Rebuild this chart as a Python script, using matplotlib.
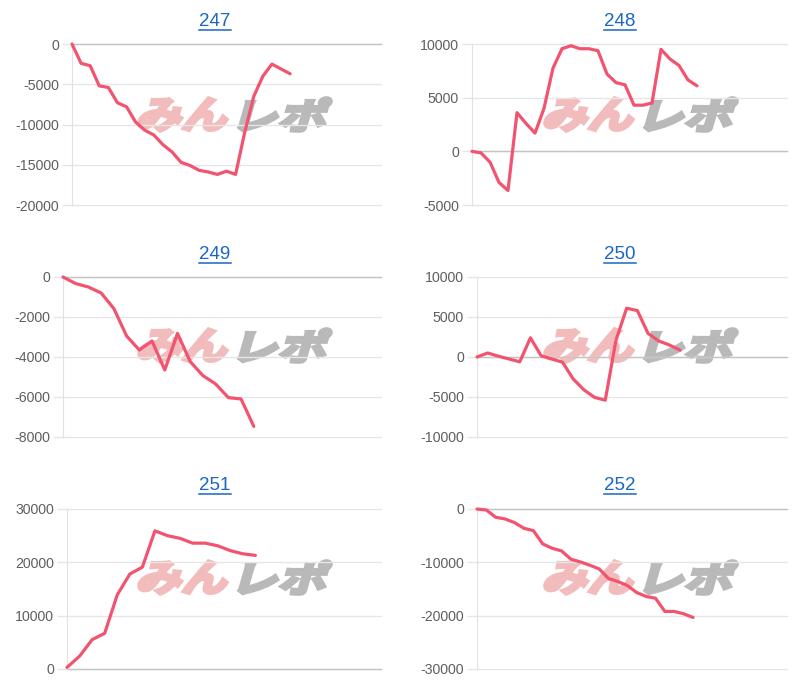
import numpy as np
import matplotlib
matplotlib.use('Agg')
import matplotlib.pyplot as plt
from matplotlib.textpath import TextPath
from matplotlib.font_manager import FontProperties
from matplotlib.patches import PathPatch
from matplotlib.transforms import Affine2D, IdentityTransform
from matplotlib.lines import Line2D

plt.rcParams['font.family'] = ['Liberation Sans', 'DejaVu Sans']
plt.rcParams['axes.unicode_minus'] = False

# chart names
titles = ['247', '248', '249', '250', '251', '252']

# cumulative values
s247 = [0, -2400, -2700, -5200, -5400, -7300, -7800, -9700, -10700, -11300, -12500,
        -13400, -14700, -15100, -15700, -15900, -16200, -15800, -16200, -11000, -6500,
        -4000, -2500, -3100, -3700]
s248 = [0, -150, -1000, -2900, -3650, 3600, 2600, 1700, 4000, 7750, 9560, 9840, 9560,
        9560, 9370, 7200, 6400, 6200, 4300, 4300, 4500, 9500, 8600, 8000, 6650, 6100]
s249 = [0, -330, -500, -800, -1580, -2950, -3650, -3200, -4650, -2820, -4230, -4930,
        -5350, -6030, -6100, -7470]
s250 = [0, 500, 100, -250, -600, 2400, 150, -250, -650, -2750, -4100, -5050, -5400,
        2100, 6100, 5800, 2950, 2000, 1500, 850]
s251 = [300, 2400, 5500, 6700, 13900, 17800, 19100, 25900, 25000, 24500, 23600,
        23600, 23100, 22200, 21600, 21300]
s252 = [0, -190, -1560, -1870, -2560, -3620, -4050, -6550, -7360, -7860, -9420, -9920,
        -10540, -11230, -13040, -13600, -14350, -15660, -16400, -16720, -19210, -19210,
        -19650, -20340]
series = [s247, s248, s249, s250, s251, s252]

# number of slots on each x axis
slots = [34, 35, 25, 29, 25, 33]

# y ticks of each chart
yticks = [
    [-20000, -15000, -10000, -5000, 0],
    [-5000, 0, 5000, 10000],
    [-8000, -6000, -4000, -2000, 0],
    [-10000, -5000, 0, 5000, 10000],
    [0, 10000, 20000, 30000],
    [-30000, -20000, -10000, 0],
]

W, H = 800, 684
fig = plt.figure(figsize=(W / 100, H / 100), dpi=100, facecolor='white')

# axes boxes in pixels: left, right, top, bottom
boxes = [(72, 381, 44, 205), (472, 787, 44, 205),
         (63, 381, 277, 437), (477, 787, 277, 437),
         (67, 381, 509, 669), (477, 787, 509, 669)]
title_pos = [(215, 22), (620, 22), (215, 255), (620, 255), (215, 486), (620, 486)]
logo_y = [97, 97, 328, 328, 560, 560]

line_col = '#f2536f'
grid_col = '#e6e6e6'
jp_font = FontProperties(family='Noto Sans CJK JP', weight='bold')


def add_logo(ax, txt, color, x0, x1, y0, y1):
    # slanted text stretched into a pixel box (image coords, y down)
    tp = TextPath((0, 0), txt, size=40, prop=jp_font)
    path = Affine2D().skew_deg(12, 0).transform_path(tp)
    ext = path.get_extents()
    tr = (Affine2D().translate(-ext.x0, -ext.y0)
          .scale((x1 - x0) / ext.width, (y1 - y0) / ext.height)
          .translate(x0, H - y1))
    p = PathPatch(tr.transform_path(path), facecolor=color, edgecolor=color, lw=2.6,
                  joinstyle='miter', transform=IdentityTransform(), zorder=0.3)
    ax.add_artist(p)


title_texts = []
for i in range(6):
    l, r, t, b = boxes[i]
    ax = fig.add_axes([l / W, 1 - b / H, (r - l) / W, (b - t) / H])
    ax.set_facecolor('none')
    ax.set_axisbelow(True)

    vals = series[i]
    ax.plot(np.arange(len(vals)), vals, color=line_col, lw=2.3,
            solid_joinstyle='round', solid_capstyle='round', zorder=3, clip_on=False)

    ax.set_xlim(0, slots[i])
    ax.set_ylim(min(yticks[i]), max(yticks[i]))
    ax.set_xticks([])
    ax.set_yticks(yticks[i], labels=[str(v) for v in yticks[i]])
    ax.yaxis.grid(True, color=grid_col, lw=1)
    for gl in ax.get_ygridlines():
        gl.set_clip_on(False)
    ax.axhline(0, color='#c4c4c4', lw=1, zorder=0.6, clip_on=False)
    ax.tick_params(axis='y', length=7.5, width=1, color=grid_col, pad=2,
                   labelsize=10.2, labelcolor='#5f5f5f')

    for s in ['top', 'right', 'bottom']:
        ax.spines[s].set_visible(False)
    ax.spines['left'].set_color('#e2e2e2')

    # watermark
    base = 139 if i % 2 == 0 else 545
    add_logo(ax, 'みん', '#f2bcbc', base, base + 88, logo_y[i] + 1, logo_y[i] + 34)
    add_logo(ax, 'レポ', '#b9b9b9', base + 100, base + 192, logo_y[i] + 1, logo_y[i] + 34)

    tx, ty = title_pos[i]
    tt = fig.text(tx / W, 1 - ty / H, titles[i], ha='center', va='center',
                  fontsize=13.5, color='#1a66c4')
    title_texts.append(tt)

# underline the titles like links
fig.canvas.draw()
for i, tt in enumerate(title_texts):
    bb = tt.get_window_extent()
    uy = H - (title_pos[i][1] + 8)
    fig.add_artist(Line2D([bb.x0, bb.x1], [uy, uy], color='#1a66c4', lw=1.1,
                          transform=IdentityTransform()))

fig.savefig('out.png', dpi=100, facecolor='white')
print('Finished')
